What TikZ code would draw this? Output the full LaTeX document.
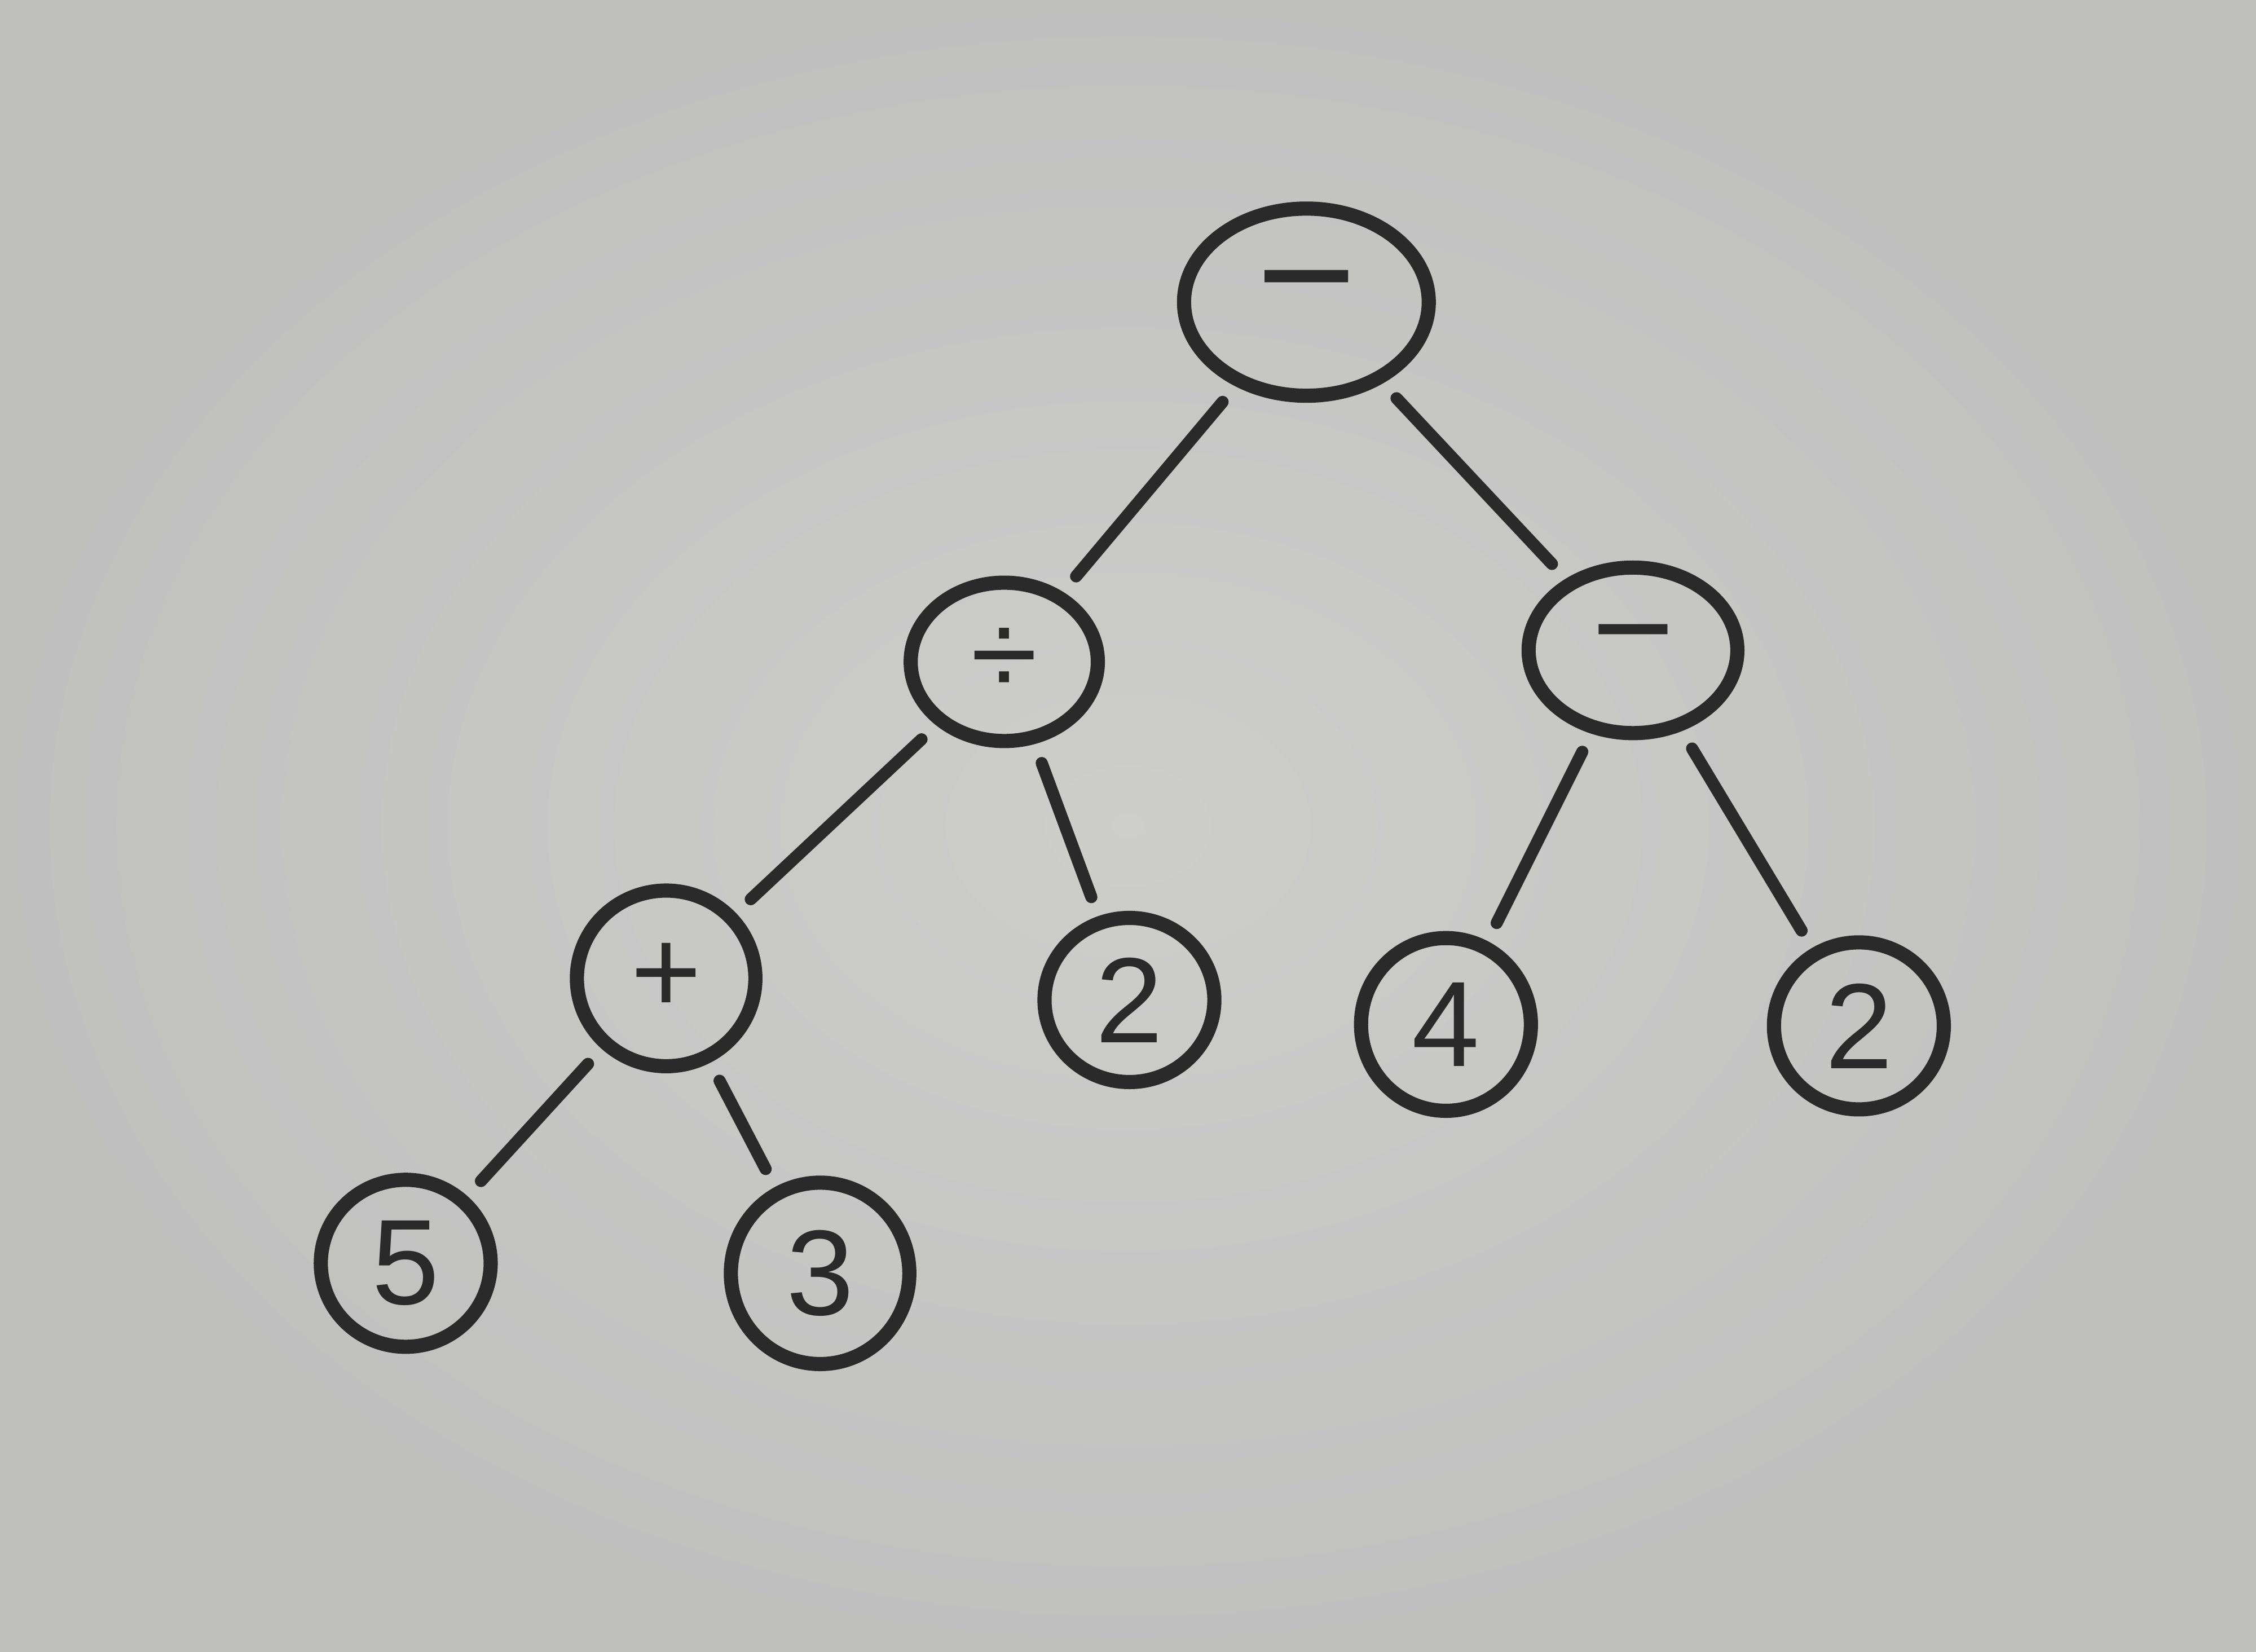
\documentclass[tikz,border=0pt]{standalone}
\usepackage{fontspec}
\setmainfont{Liberation Sans}
\usetikzlibrary{shapes.geometric}
\definecolor{paper}{RGB}{206,206,205}
\definecolor{paperdark}{RGB}{172,172,172}
\definecolor{ink}{RGB}{42,42,42}
\tikzset{
  tnode/.style={ellipse, draw=ink, line width=2.8pt, inner sep=0pt, text=ink,
                font=\fontsize{24}{24}\selectfont},
  tedge/.style={draw=ink, line width=2.4pt, line cap=round, shorten <=4pt, shorten >=4pt}
}
\begin{document}
\begin{tikzpicture}[x=0.01cm, y=-0.01cm]
  % sheet of paper with darker corners
  \useasboundingbox (0,0) rectangle (1568,1148);
  \shade[inner color=paper, outer color=paperdark] (0,0) rectangle (1568,1148);
  \fill[paper, opacity=0.6] (0,0) rectangle (1568,1148);

  % operators
  \node[tnode, minimum width=1.70cm, minimum height=1.30cm, font=\fontsize{34}{34}\selectfont] (root) at (908,210) {−};
  \node[tnode, minimum width=1.30cm, minimum height=1.10cm] (div) at (698,460) {÷};
  \node[tnode, minimum width=1.45cm, minimum height=1.15cm, font=\fontsize{28}{28}\selectfont] (sub) at (1135,452) {−};
  \node[tnode, minimum width=1.24cm, minimum height=1.22cm] (add) at (463,680) {+};

  % operands
  \node[tnode, minimum width=1.18cm, minimum height=1.14cm] (twoA) at (785,695) {2};
  \node[tnode, minimum width=1.18cm, minimum height=1.20cm] (four) at (1005,712) {4};
  \node[tnode, minimum width=1.18cm, minimum height=1.16cm] (twoB) at (1292,713) {2};
  \node[tnode, minimum width=1.18cm, minimum height=1.16cm] (five) at (282,878) {5};
  \node[tnode, minimum width=1.24cm, minimum height=1.26cm] (three) at (570,885) {3};

  % branches
  \draw[tedge] (root) -- (div);
  \draw[tedge] (root) -- (sub);
  \draw[tedge] (div) -- (add);
  \draw[tedge] (div) -- (twoA);
  \draw[tedge] (sub) -- (four);
  \draw[tedge] (sub) -- (twoB);
  \draw[tedge] (add) -- (five);
  \draw[tedge] (add) -- (three);
\end{tikzpicture}
\end{document}
